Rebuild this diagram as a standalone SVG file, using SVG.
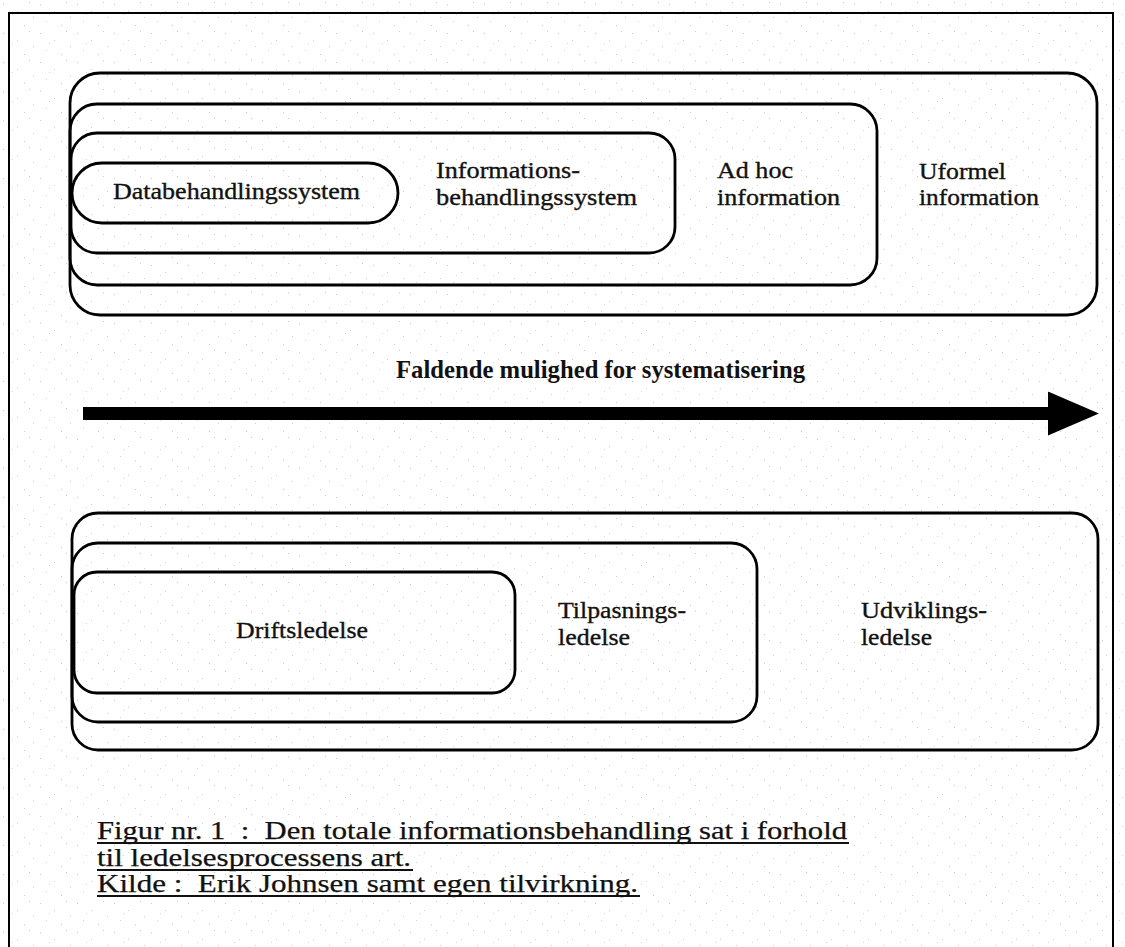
<svg xmlns="http://www.w3.org/2000/svg" width="1125" height="947" viewBox="0 0 1125 947">
<defs>
<pattern id="stip" width="37" height="29" patternUnits="userSpaceOnUse">
<rect x="3" y="4" width="1" height="1" fill="#c8c8c8"/>
<rect x="17" y="11" width="1" height="1" fill="#d0d0d0"/>
<rect x="29" y="2" width="1" height="1" fill="#c8c8c8"/>
<rect x="9" y="21" width="1" height="1" fill="#d4d4d4"/>
<rect x="24" y="25" width="1" height="1" fill="#c8c8c8"/>
<rect x="33" y="17" width="1" height="1" fill="#d0d0d0"/>
<rect x="12" y="14" width="1" height="1" fill="#d8d8d8"/>
</pattern>
<marker id="head" markerUnits="userSpaceOnUse" markerWidth="52" markerHeight="44" refX="0" refY="22" orient="auto">
<polygon points="0,0 51,22 0,44" fill="#000"/>
</marker>
<style>
.box{fill:none;stroke:#000;stroke-width:2.8}
.lbl{font-family:"Liberation Serif","DejaVu Serif",serif;font-size:24px;fill:#111;stroke:#111;stroke-width:0.35}
.bold{font-family:"Liberation Serif","DejaVu Serif",serif;font-size:26px;font-weight:bold;fill:#111}
.cap{font-family:"Liberation Serif","DejaVu Serif",serif;font-size:25px;fill:#111;stroke:#111;stroke-width:0.25}
.ul{stroke:#111;stroke-width:1.8}
</style>
</defs>
<rect x="0" y="0" width="1125" height="947" fill="#fff"/>
<rect x="0" y="0" width="1125" height="947" fill="url(#stip)"/>
<rect x="9" y="13" width="1104" height="960" fill="none" stroke="#000" stroke-width="2"/>

<g id="uformel">
<rect class="box" x="70" y="73" width="1027" height="242" rx="30" ry="30"/>
<text class="lbl" x="919" y="179" textLength="87" lengthAdjust="spacingAndGlyphs">Uformel</text>
<text class="lbl" x="919" y="205" textLength="120" lengthAdjust="spacingAndGlyphs">information</text>
</g>
<g id="adhoc">
<rect class="box" x="70" y="104" width="807" height="181" rx="27" ry="27"/>
<text class="lbl" x="717" y="178" textLength="76" lengthAdjust="spacingAndGlyphs">Ad hoc</text>
<text class="lbl" x="717" y="205" textLength="123" lengthAdjust="spacingAndGlyphs">information</text>
</g>
<g id="informations">
<rect class="box" x="71" y="133" width="604" height="120" rx="26" ry="26"/>
<text class="lbl" x="436" y="178" textLength="144" lengthAdjust="spacingAndGlyphs">Informations-</text>
<text class="lbl" x="436" y="205" textLength="201" lengthAdjust="spacingAndGlyphs">behandlingssystem</text>
</g>
<g id="databehandling">
<rect class="box" x="72" y="163" width="326" height="60" rx="30" ry="30"/>
<text class="lbl" x="113" y="199" textLength="247" lengthAdjust="spacingAndGlyphs">Databehandlingssystem</text>
</g>

<g id="faldende-label">
<text class="bold" x="396" y="378" textLength="409" lengthAdjust="spacingAndGlyphs">Faldende mulighed for systematisering</text>
</g>
<g id="connectors">
<line x1="83" y1="413.5" x2="1048" y2="413.5" stroke="#000" stroke-width="13" marker-end="url(#head)"/>
</g>

<g id="udviklings">
<rect class="box" x="72" y="513" width="1026" height="237" rx="26" ry="26"/>
<text class="lbl" x="861" y="618" textLength="126" lengthAdjust="spacingAndGlyphs">Udviklings-</text>
<text class="lbl" x="861" y="645" textLength="71" lengthAdjust="spacingAndGlyphs">ledelse</text>
</g>
<g id="tilpasnings">
<rect class="box" x="72" y="543" width="685" height="179" rx="26" ry="26"/>
<text class="lbl" x="558" y="618" textLength="128" lengthAdjust="spacingAndGlyphs">Tilpasnings-</text>
<text class="lbl" x="558" y="645" textLength="72" lengthAdjust="spacingAndGlyphs">ledelse</text>
</g>
<g id="drifts">
<rect class="box" x="74" y="572" width="441" height="121" rx="23" ry="23"/>
<text class="lbl" x="236" y="638" textLength="132" lengthAdjust="spacingAndGlyphs">Driftsledelse</text>
</g>

<g id="caption">
<text class="cap" x="97" y="839" textLength="750" lengthAdjust="spacingAndGlyphs" xml:space="preserve">Figur nr. 1  :  Den totale informationsbehandling sat i forhold</text>
<line class="ul" x1="97" y1="843" x2="849" y2="843"/>
<text class="cap" x="97" y="866" textLength="314" lengthAdjust="spacingAndGlyphs">til ledelsesprocessens art.</text>
<line class="ul" x1="97" y1="870" x2="413" y2="870"/>
<text class="cap" x="97" y="892" textLength="541" lengthAdjust="spacingAndGlyphs" xml:space="preserve">Kilde :  Erik Johnsen samt egen tilvirkning.</text>
<line class="ul" x1="97" y1="896" x2="640" y2="896"/>
</g>
</svg>
